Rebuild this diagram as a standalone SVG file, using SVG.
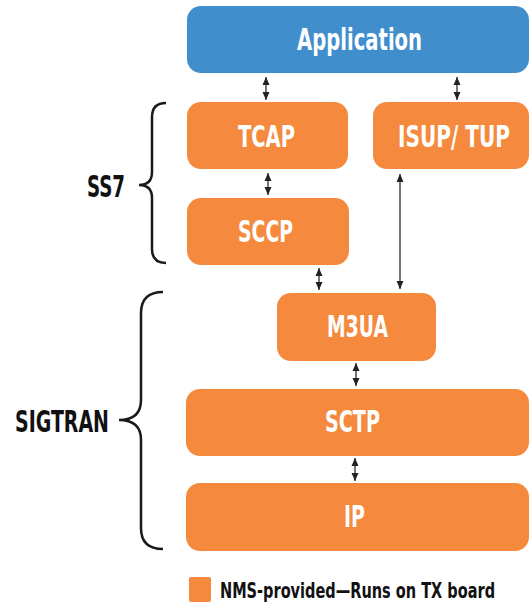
<svg xmlns="http://www.w3.org/2000/svg" width="529" height="604" viewBox="0 0 529 604">
<style>
.box{fill:#F5893D}
.app{fill:#418ECD}
.lbl{font-family:"Liberation Sans Narrow","DejaVu Sans Condensed","Liberation Sans",sans-serif;font-weight:bold;font-size:31px;fill:#fff;text-anchor:middle}
.side{font-family:"Liberation Sans Narrow","DejaVu Sans Condensed","Liberation Sans",sans-serif;font-weight:bold;font-size:30px;fill:#111}
.leg{font-family:"Liberation Sans Narrow","DejaVu Sans Condensed","Liberation Sans",sans-serif;font-weight:bold;font-size:21px;fill:#111}
.brace{fill:none;stroke:#1a1a1a;stroke-width:2.5}
.conn{stroke:#555;stroke-width:1.6;fill:none;marker-start:url(#ah);marker-end:url(#ah)}
</style>
<defs>
<marker id="ah" markerUnits="userSpaceOnUse" markerWidth="8" markerHeight="8" viewBox="0 0 8 8" refX="8" refY="4" orient="auto-start-reverse">
<path d="M0,0.5 L8,4 L0,7.5 z" fill="#222"/>
</marker>
</defs>
<g id="application"><rect class="app" x="187" y="6" width="342" height="67" rx="14"/><text class="lbl" transform="translate(359.5,50) scale(0.75,1)" textLength="166.7" lengthAdjust="spacingAndGlyphs">Application</text></g>
<g id="tcap"><rect class="box" x="187" y="102" width="161" height="67" rx="14"/><text class="lbl" transform="translate(266.5,147) scale(0.75,1)" textLength="76" lengthAdjust="spacingAndGlyphs">TCAP</text></g>
<g id="isup"><rect class="box" x="373" y="102" width="156" height="67" rx="14"/><text class="lbl" transform="translate(454,147) scale(0.75,1)" textLength="149.3" lengthAdjust="spacingAndGlyphs">ISUP/ TUP</text></g>
<g id="sccp"><rect class="box" x="187" y="198" width="162" height="67" rx="14"/><text class="lbl" transform="translate(265.5,242) scale(0.75,1)" textLength="73.3" lengthAdjust="spacingAndGlyphs">SCCP</text></g>
<g id="m3ua"><rect class="box" x="277" y="293" width="159" height="68" rx="14"/><text class="lbl" transform="translate(357.5,337) scale(0.75,1)" textLength="81.3" lengthAdjust="spacingAndGlyphs">M3UA</text></g>
<g id="sctp"><rect class="box" x="186" y="389" width="343" height="67" rx="14"/><text class="lbl" transform="translate(352.5,432) scale(0.75,1)" textLength="73.3" lengthAdjust="spacingAndGlyphs">SCTP</text></g>
<g id="ip"><rect class="box" x="186" y="483" width="343" height="68" rx="14"/><text class="lbl" transform="translate(354.5,527) scale(0.75,1)" textLength="28" lengthAdjust="spacingAndGlyphs">IP</text></g>
<g id="ss7"><path class="brace" d="M166,103 Q152,103 152,117 L152,172 Q152,185 139,185 Q152,185 152,198 L152,249 Q152,263 166,263"/><text class="side" transform="translate(87,197) scale(0.75,1)" textLength="50.7" lengthAdjust="spacingAndGlyphs">SS7</text></g>
<g id="sigtran"><path class="brace" d="M163,292 Q141,292 141,313 L141,400 Q141,420 119,420 Q141,420 141,440 L141,528 Q141,549 163,549"/><text class="side" transform="translate(15,432) scale(0.75,1)" textLength="125.3" lengthAdjust="spacingAndGlyphs">SIGTRAN</text></g>
<g id="legend"><rect class="box" x="189" y="577" width="22" height="25" rx="2"/><text class="leg" transform="translate(220,598) scale(0.75,1)" textLength="366.7" lengthAdjust="spacingAndGlyphs">NMS-provided—Runs on TX board</text></g>
<g id="connectors">
<line class="conn" x1="266" y1="77" x2="266" y2="100"/>
<line class="conn" x1="457" y1="77" x2="457" y2="100"/>
<line class="conn" x1="268" y1="173" x2="268" y2="195"/>
<line class="conn" x1="319" y1="268" x2="319" y2="290"/>
<line class="conn" x1="400" y1="174" x2="400" y2="289"/>
<line class="conn" x1="356" y1="363" x2="356" y2="386"/>
<line class="conn" x1="355" y1="458" x2="355" y2="481"/>
</g>
</svg>
